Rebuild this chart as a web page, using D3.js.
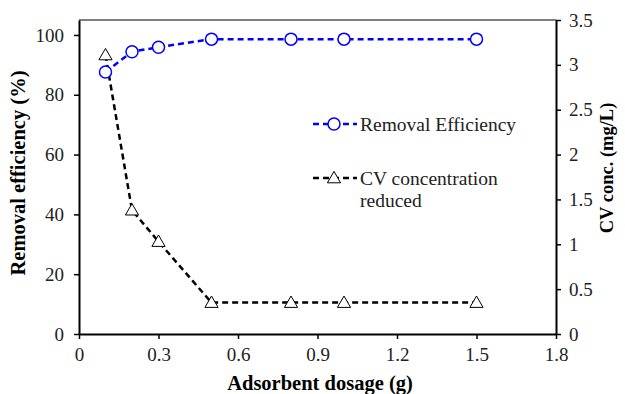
<!DOCTYPE html>
<html>
<head>
<meta charset="utf-8">
<script src="https://cdn.jsdelivr.net/npm/d3@7"></script>
<style>
  body { margin: 0; background: #fff; }
  text { font-family: "Liberation Serif", "Times New Roman", serif; }
</style>
</head>
<body>
<svg id="chart" width="625" height="394"></svg>
<script>
// data
var dosage = [0.1, 0.2, 0.3, 0.5, 0.8, 1.0, 1.5];
var removal = [87.6, 94.4, 95.9, 98.6, 98.6, 98.6, 98.6];
var cvConc = [3.11, 1.38, 1.03, 0.35, 0.35, 0.35, 0.35];

var xTicks = [0, 0.3, 0.6, 0.9, 1.2, 1.5, 1.8];
var leftTicks = [0, 20, 40, 60, 80, 100];
var rightTicks = [0, 0.5, 1, 1.5, 2, 2.5, 3, 3.5];

var svg = d3.select("#chart");

// plot box (don't call it "top", window.top is taken)
var pL = 79, pR = 556, pT = 20, pB = 334;

var x = d3.scaleLinear().domain([0, 1.8]).range([pL, pR]);
var yL = d3.scaleLinear().domain([0, 105]).range([pB, pT]);
var yR = d3.scaleLinear().domain([0, 3.5]).range([pB, pT]);

// top border of plot area
svg.append("line")
    .attr("x1", pL).attr("x2", pR)
    .attr("y1", pT).attr("y2", pT)
    .attr("stroke", "#555").attr("stroke-width", 1.5);

function styleAxis(g) {
    g.selectAll("path").attr("stroke", "#000").attr("stroke-width", 2);
    g.selectAll("line").attr("stroke", "#000").attr("stroke-width", 1.5);
    g.selectAll("text").attr("font-size", 19).attr("fill", "#222")
        .style("font-family", "'Liberation Serif', serif");
}

svg.append("g")
    .attr("transform", "translate(0," + pB + ")")
    .call(d3.axisBottom(x).tickValues(xTicks).tickSize(5).tickSizeOuter(0)
        .tickFormat(function (d) { return d === 0 ? "0" : d3.format(".1f")(d); }))
    .call(styleAxis)
    .call(function (g) { g.selectAll("text").attr("y", 14).attr("dy", "0.71em"); });

svg.append("g")
    .attr("transform", "translate(" + pL + ",0)")
    .call(d3.axisLeft(yL).tickValues(leftTicks).tickSize(5).tickSizeOuter(0))
    .call(styleAxis)
    .call(function (g) { g.selectAll("text").attr("x", -15); });

svg.append("g")
    .attr("transform", "translate(" + pR + ",0)")
    .call(d3.axisRight(yR).tickValues(rightTicks).tickSize(5).tickSizeOuter(0)
        .tickFormat(function (d) { return d3.format("")(d); }))
    .call(styleAxis)
    .call(function (g) { g.selectAll("text").attr("x", 13); });

// axis titles
svg.append("text")
    .attr("transform", "translate(25,173) rotate(-90)")
    .attr("text-anchor", "middle")
    .attr("font-size", 20.5).attr("font-weight", "bold")
    .text("Removal efficiency (%)");

svg.append("text")
    .attr("transform", "translate(613,168) rotate(-90)")
    .attr("text-anchor", "middle")
    .attr("font-size", 18.5).attr("font-weight", "bold")
    .text("CV conc. (mg/L)");

svg.append("text")
    .attr("x", 320).attr("y", 390)
    .attr("text-anchor", "middle")
    .attr("font-size", 20.5).attr("font-weight", "bold")
    .text("Adsorbent dosage (g)");

// series
var dash = "6,4";
var tri = d3.symbol().type(d3.symbolTriangle).size(75);

var lineR = d3.line().x(function (d, i) { return x(dosage[i]); }).y(function (d) { return yL(d); });
var lineC = d3.line().x(function (d, i) { return x(dosage[i]); }).y(function (d) { return yR(d); });

svg.append("path").attr("d", lineC(cvConc))
    .attr("fill", "none").attr("stroke", "#000")
    .attr("stroke-width", 2.5).attr("stroke-dasharray", dash);

svg.selectAll(".tri").data(cvConc).enter().append("path")
    .attr("class", "tri")
    .attr("d", tri)
    .attr("transform", function (d, i) { return "translate(" + x(dosage[i]) + "," + (yR(d) + 1) + ")"; })
    .attr("fill", "#fff").attr("stroke", "#000").attr("stroke-width", 1);

svg.append("path").attr("d", lineR(removal))
    .attr("fill", "none").attr("stroke", "#0000ff")
    .attr("stroke-width", 2.5).attr("stroke-dasharray", dash);

svg.selectAll(".circ").data(removal).enter().append("circle")
    .attr("class", "circ")
    .attr("cx", function (d, i) { return x(dosage[i]); })
    .attr("cy", function (d) { return yL(d); })
    .attr("r", 6)
    .attr("fill", "#fff").attr("stroke", "#0000ff").attr("stroke-width", 1.5);

// legend
var lg = svg.append("g");
lg.append("line").attr("x1", 313).attr("x2", 357).attr("y1", 124).attr("y2", 124)
    .attr("stroke", "#0000ff").attr("stroke-width", 2.5).attr("stroke-dasharray", dash);
lg.append("circle").attr("cx", 334).attr("cy", 124).attr("r", 6)
    .attr("fill", "#fff").attr("stroke", "#0000ff").attr("stroke-width", 1.5);
lg.append("text").attr("x", 360).attr("y", 131).attr("font-size", 19.5).attr("fill", "#222")
    .text("Removal Efficiency");

lg.append("line").attr("x1", 313).attr("x2", 357).attr("y1", 178).attr("y2", 178)
    .attr("stroke", "#000").attr("stroke-width", 2.5).attr("stroke-dasharray", dash);
lg.append("path").attr("d", tri)
    .attr("transform", "translate(334,179)")
    .attr("fill", "#fff").attr("stroke", "#000").attr("stroke-width", 1);
lg.append("text").attr("x", 360).attr("y", 185).attr("font-size", 19.5).attr("fill", "#222")
    .text("CV concentration");
lg.append("text").attr("x", 360).attr("y", 207).attr("font-size", 19.5).attr("fill", "#222")
    .text("reduced");
</script>
</body>
</html>
